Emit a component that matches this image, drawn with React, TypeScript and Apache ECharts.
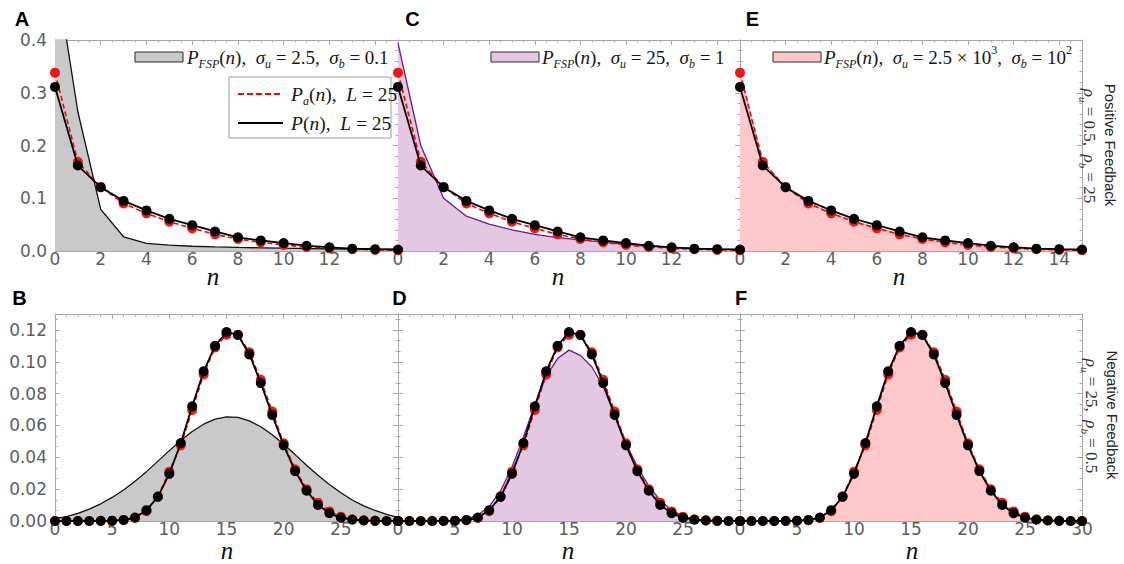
import React, { useEffect, useRef } from 'react';
import * as echarts from 'echarts';

// ---------- data ----------
const nTop = [0, 1, 2, 3, 4, 5, 6, 7, 8, 9, 10, 11, 12, 13, 14, 15];
const nBottom = [0, 1, 2, 3, 4, 5, 6, 7, 8, 9, 10, 11, 12, 13, 14, 15, 16, 17, 18, 19, 20, 21, 22, 23, 24, 25, 26, 27, 28, 29, 30];

// positive feedback (top row)
const pTop = [0.311, 0.162, 0.121, 0.095, 0.077, 0.061, 0.049, 0.037, 0.026, 0.020, 0.015, 0.010, 0.007, 0.0045, 0.0035, 0.0028];
const paTop = [0.338, 0.169, 0.121, 0.090, 0.0714, 0.0556, 0.043, 0.0316, 0.0227, 0.0165, 0.0114, 0.0076, 0.0051, 0.0033, 0.0022, 0.0015];
const fspA = [0.54, 0.264, 0.079, 0.027, 0.0146, 0.011, 0.009, 0.0078, 0.0068, 0.006, 0.0053, 0.0047, 0.0042, 0.0037, 0.0033, 0.003];
const fspC = [0.394, 0.2, 0.0999, 0.066, 0.051, 0.040, 0.0316, 0.0253, 0.021, 0.017, 0.0126, 0.0095, 0.007, 0.005, 0.0035, 0.0025];
const fspE = [0.336, 0.168, 0.121, 0.091, 0.072, 0.056, 0.044, 0.032, 0.023, 0.017, 0.012, 0.008, 0.0053, 0.0035, 0.0023, 0.0016];

// negative feedback (bottom row)
const pBottom = [0, 0, 0, 0, 0.0001, 0.0002, 0.0007, 0.0022, 0.0068, 0.0152, 0.0296, 0.049, 0.072, 0.094, 0.110, 0.1187, 0.1168, 0.1046, 0.0866, 0.0666, 0.0475, 0.0313, 0.019, 0.0101, 0.0049, 0.002, 0.0008, 0.0003, 0.0001, 0, 0];
const paBottom = [0, 0, 0, 0, 0, 0.0001, 0.0005, 0.0019, 0.0062, 0.0155, 0.031, 0.0475, 0.0697, 0.092, 0.109, 0.117, 0.117, 0.106, 0.0887, 0.0687, 0.0488, 0.0325, 0.02, 0.0115, 0.006, 0.0027, 0.0011, 0.0004, 0.0001, 0, 0];
const fspB = [0.0015, 0.0028, 0.0048, 0.0075, 0.0108, 0.0148, 0.0195, 0.025, 0.031, 0.0376, 0.0442, 0.0506, 0.0562, 0.0608, 0.064, 0.0654, 0.0651, 0.0629, 0.0592, 0.0542, 0.0482, 0.0417, 0.035, 0.0287, 0.0229, 0.0177, 0.0132, 0.0095, 0.0066, 0.0042, 0.0022];
const fspD = [0, 0, 0, 0, 0, 0.0002, 0.001, 0.0038, 0.009, 0.019, 0.0338, 0.0528, 0.0729, 0.091, 0.102, 0.1073, 0.104, 0.0969, 0.0845, 0.0666, 0.0487, 0.034, 0.022, 0.013, 0.0068, 0.003, 0.0012, 0.0004, 0.0001, 0, 0];
const fspF = [0, 0, 0, 0, 0, 0.0001, 0.0006, 0.002, 0.0064, 0.0153, 0.0303, 0.0482, 0.071, 0.093, 0.1095, 0.1178, 0.1169, 0.1053, 0.0876, 0.0673, 0.0483, 0.0319, 0.0195, 0.0108, 0.0055, 0.0024, 0.001, 0.0004, 0.0001, 0, 0];

// ---------- styles ----------
const FRAME = '#a8a8a8';
const LABEL = '#5e5e5e';
const MATH = 'Liberation Serif';
const SANS = 'DejaVu Sans';

const pairs = (xs: number[], ys: number[]) => xs.map((x, i) => [x, ys[i]]);

const grids = [
  { left: 55, top: 40, width: 343, height: 211 },
  { left: 398, top: 40, width: 342, height: 211 },
  { left: 740, top: 40, width: 342, height: 211 },
  { left: 55, top: 314, width: 343, height: 207 },
  { left: 398, top: 314, width: 342, height: 207 },
  { left: 740, top: 314, width: 342, height: 207 },
];

const tickLine = { color: FRAME, width: 1 };

function axisBase(gi: number, max: number, interval: number, minorSplit: number) {
  return {
    type: 'value',
    gridIndex: gi,
    min: 0,
    max,
    interval,
    splitLine: { show: false },
    minorSplitLine: { show: false },
    axisLine: { show: true, onZero: false, lineStyle: { color: FRAME, width: 1 } },
    axisTick: { show: true, inside: true, length: 5, lineStyle: tickLine },
    minorTick: { show: true, splitNumber: minorSplit, length: 2.5, lineStyle: tickLine },
  };
}

function makeX(gi: number, max: number, interval: number, minorSplit: number, labelMax: number) {
  const b = axisBase(gi, max, interval, minorSplit);
  return [
    {
      ...b,
      position: 'bottom',
      axisLabel: {
        show: true,
        margin: -1,
        color: LABEL,
        fontFamily: SANS,
        fontSize: 17,
        hideOverlap: false,
        formatter: (v: number) => (v <= labelMax + 1e-9 ? String(Math.round(v)) : ''),
      },
    },
    { ...b, position: 'top', axisLabel: { show: false } },
  ];
}

function makeY(gi: number, max: number, interval: number, minorSplit: number, showLabels: boolean, digits: number, labelMax: number) {
  const b = axisBase(gi, max, interval, minorSplit);
  return [
    {
      ...b,
      position: 'left',
      axisLabel: {
        show: showLabels,
        margin: 8,
        color: LABEL,
        fontFamily: SANS,
        fontSize: 17,
        hideOverlap: false,
        formatter: (v: number) => (v <= labelMax + 1e-9 ? v.toFixed(digits) : ''),
      },
    },
    { ...b, position: 'right', axisLabel: { show: false } },
  ];
}

function panelSeries(gi: number, xs: number[], fsp: number[], pa: number[], p: number[], fspLine: string, fspFill: string) {
  const ax = { xAxisIndex: 2 * gi, yAxisIndex: 2 * gi };
  return [
    {
      type: 'line', ...ax, data: pairs(xs, fsp), symbol: 'none', showSymbol: false, clip: true, z: 2,
      lineStyle: { color: fspLine, width: 1.3 },
      areaStyle: { color: fspFill, opacity: 1 },
    },
    {
      type: 'line', ...ax, data: pairs(xs, pa), symbol: 'circle', symbolSize: 10, clip: true, z: 3,
      itemStyle: { color: '#f41414' },
      lineStyle: { color: '#ff0000', width: 1.6, type: [5, 3] },
    },
    {
      type: 'line', ...ax, data: pairs(xs, p), symbol: 'circle', symbolSize: 10, clip: true, z: 4,
      itemStyle: { color: '#000000' },
      lineStyle: { color: '#000000', width: 1.8 },
    },
  ];
}

function richMath(size: number, color = '#151515') {
  const sub = Math.round(size * 0.63);
  return {
    i: { fontFamily: MATH, fontStyle: 'italic', fontSize: size, lineHeight: size + 7, fill: color, color },
    r: { fontFamily: MATH, fontSize: size, lineHeight: size + 7, fill: color, color },
    s: { fontFamily: MATH, fontStyle: 'italic', fontSize: sub, lineHeight: sub, verticalAlign: 'bottom', fill: color, color },
    p: { fontFamily: MATH, fontSize: sub, lineHeight: sub, verticalAlign: 'top', fill: color, color },
  };
}

function mathText(x: number, y: number, text: string, size: number, align = 'left', rotation = 0, color = '#151515') {
  return {
    type: 'text', x, y, rotation, z: 110,
    style: {
      text, rich: richMath(size, color),
      fontFamily: MATH, fontSize: size, fill: color,
      align, textAlign: align, verticalAlign: 'middle', textVerticalAlign: 'middle',
    },
  };
}

function plainText(x: number, y: number, text: string, size: number, family: string, weight = 'normal', style = 'normal', rotation = 0, color = '#111') {
  return {
    type: 'text', x, y, rotation, z: 110,
    style: {
      text, fontFamily: family, fontSize: size, fontWeight: weight, fontStyle: style, fill: color,
      align: 'center', textAlign: 'center', verticalAlign: 'middle', textVerticalAlign: 'middle',
    },
  };
}

const legendA = '{i|P}{s|FSP}{r|(}{i|n}{r|),  }{i|σ}{s|u}{r| = 2.5,  }{i|σ}{s|b}{r| = 0.1}';
const legendC = '{i|P}{s|FSP}{r|(}{i|n}{r|),  }{i|σ}{s|u}{r| = 25,  }{i|σ}{s|b}{r| = 1}';
const legendE = '{i|P}{s|FSP}{r|(}{i|n}{r|),  }{i|σ}{s|u}{r| = 2.5 × 10}{p|3}{r|,  }{i|σ}{s|b}{r| = 10}{p|2}';
const legendPa = '{i|P}{s|a}{r|(}{i|n}{r|),  }{i|L}{r| = 25}';
const legendP = '{i|P}{r|(}{i|n}{r|),  }{i|L}{r| = 25}';
const rhoTop = '{i|ρ}{s|u}{r| = 0.5,  }{i|ρ}{s|b}{r| = 25}';
const rhoBottom = '{i|ρ}{s|u}{r| = 25,  }{i|ρ}{s|b}{r| = 0.5}';

function swatch(x: number, y: number, fill: string) {
  return { type: 'rect', z: 110, shape: { x, y, width: 48, height: 10 }, style: { fill, stroke: '#2a2a2a', lineWidth: 1 } };
}

export default function App() {
  const ref = useRef<HTMLDivElement>(null);
  useEffect(() => {
    if (!ref.current) return;
    const chart = echarts.init(ref.current, null, { renderer: 'svg' });
    const option: any = {
      animation: false,
      backgroundColor: '#ffffff',
      grid: grids.map((g) => ({ ...g, containLabel: false, outerBoundsMode: 'none', show: false })),
      xAxis: [
        ...makeX(0, 15, 2, 4, 12),
        ...makeX(1, 15, 2, 4, 12),
        ...makeX(2, 15, 2, 4, 14),
        ...makeX(3, 30, 5, 5, 25),
        ...makeX(4, 30, 5, 5, 25),
        ...makeX(5, 30, 5, 5, 30),
      ],
      yAxis: [
        ...makeY(0, 0.4, 0.1, 5, true, 1, 0.4),
        ...makeY(1, 0.4, 0.1, 5, false, 1, 0.4),
        ...makeY(2, 0.4, 0.1, 5, false, 1, 0.4),
        ...makeY(3, 0.13, 0.02, 3, true, 2, 0.12),
        ...makeY(4, 0.13, 0.02, 3, false, 2, 0.12),
        ...makeY(5, 0.13, 0.02, 3, false, 2, 0.12),
      ],
      series: [
        ...panelSeries(0, nTop, fspA, paTop, pTop, '#111111', '#c9c9c9'),
        ...panelSeries(1, nTop, fspC, paTop, pTop, '#6a1a80', '#e3c7e3'),
        ...panelSeries(2, nTop, fspE, paTop, pTop, '#f2a0a6', '#ffc8cb'),
        ...panelSeries(3, nBottom, fspB, paBottom, pBottom, '#111111', '#c9c9c9'),
        ...panelSeries(4, nBottom, fspD, paBottom, pBottom, '#6a1a80', '#e3c7e3'),
        ...panelSeries(5, nBottom, fspF, paBottom, pBottom, '#f2a0a6', '#ffc8cb'),
      ],
      graphic: [
        // panel letters
        plainText(22, 18.5, 'A', 20, 'Liberation Sans', 'bold', 'normal', 0, '#000'),
        plainText(412.5, 18.5, 'C', 20, 'Liberation Sans', 'bold', 'normal', 0, '#000'),
        plainText(752.5, 18.5, 'E', 20, 'Liberation Sans', 'bold', 'normal', 0, '#000'),
        plainText(19.5, 298, 'B', 20, 'Liberation Sans', 'bold', 'normal', 0, '#000'),
        plainText(399.5, 298, 'D', 20, 'Liberation Sans', 'bold', 'normal', 0, '#000'),
        plainText(741, 298, 'F', 20, 'Liberation Sans', 'bold', 'normal', 0, '#000'),
        // axis names
        plainText(213, 276, 'n', 25, MATH, 'normal', 'italic'),
        plainText(558, 276, 'n', 25, MATH, 'normal', 'italic'),
        plainText(899, 276, 'n', 25, MATH, 'normal', 'italic'),
        plainText(227, 550, 'n', 25, MATH, 'normal', 'italic'),
        plainText(568, 550, 'n', 25, MATH, 'normal', 'italic'),
        plainText(912, 550, 'n', 25, MATH, 'normal', 'italic'),
        // FSP legends
        swatch(135, 52, '#c9c9c9'),
        mathText(187, 57, legendA, 19),
        swatch(491, 52, '#e3c7e3'),
        mathText(542, 57, legendC, 19),
        swatch(773, 52, '#ffc8cb'),
        mathText(824, 57, legendE, 19),
        // P / Pa legend box
        { type: 'rect', z: 105, shape: { x: 229, y: 77, width: 162, height: 61 }, style: { fill: '#ffffff', stroke: '#9a9a9a', lineWidth: 1 } },
        { type: 'line', z: 110, shape: { x1: 238, y1: 94, x2: 283, y2: 94 }, style: { stroke: '#ff0000', lineWidth: 1.8, lineDash: [6, 3] } },
        mathText(291, 94, legendPa, 19.5),
        { type: 'line', z: 110, shape: { x1: 238, y1: 123, x2: 283, y2: 123 }, style: { stroke: '#000000', lineWidth: 2 } },
        mathText(291, 123, legendP, 19.5),
        // right side labels
        plainText(1110, 145, 'Positive Feedback', 15, 'Liberation Sans', 'normal', 'normal', -Math.PI / 2, '#222'),
        mathText(1089, 146, rhoTop, 17, 'center', -Math.PI / 2, '#333'),
        plainText(1112, 415, 'Negative Feedback', 15, 'Liberation Sans', 'normal', 'normal', -Math.PI / 2, '#222'),
        mathText(1091, 416, rhoBottom, 17, 'center', -Math.PI / 2, '#333'),
      ],
    };
    chart.setOption(option);
    return () => chart.dispose();
  }, []);
  return <div ref={ref} style={{ position: 'absolute', left: 0, top: 0, width: 1124, height: 564 }} />;
}
